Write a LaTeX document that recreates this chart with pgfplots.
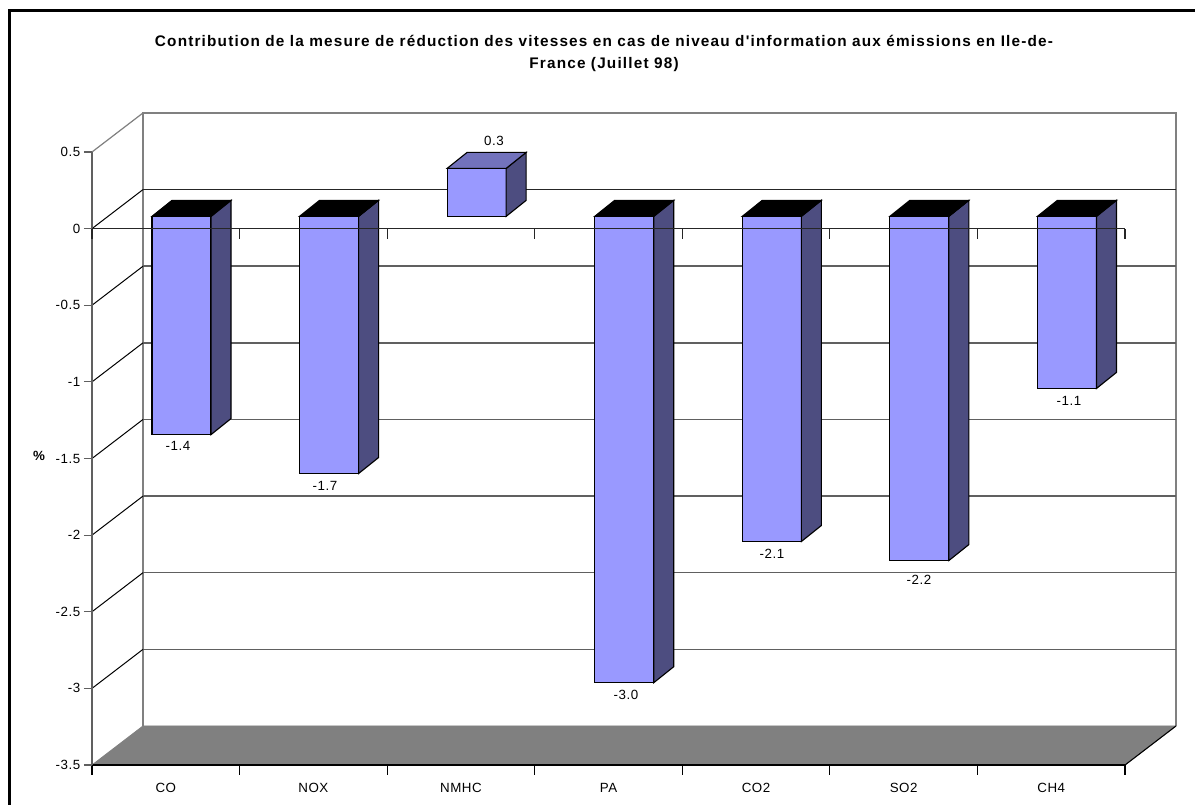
\documentclass[border=0pt]{standalone}
\usepackage{pgfplots}
\pgfplotsset{compat=1.18}
\usepackage{fontspec}
\setmainfont{Liberation Sans}
\newfontfamily\titlefont[LetterSpace=7.7,Ligatures=TeXOff]{Liberation Sans}
\newfontfamily\labfont[LetterSpace=4]{Liberation Sans}
\definecolor{barfront}{HTML}{9999FF}
\definecolor{barside}{HTML}{4D4D80}
\definecolor{bartop}{HTML}{7272BC}
\definecolor{wallgray}{HTML}{808080}
\definecolor{griddark}{HTML}{606060}
\newcommand{\lab}{\labfont\fontsize{10pt}{12pt}\selectfont}
\newcommand{\ttl}{\titlefont\bfseries\fontsize{11.5pt}{13pt}\selectfont}
\pgfplotsset{
  face/.style={line width=.85pt,draw=black,xshift=11.8pt,yshift=9.2pt,forget plot},
}
\begin{document}
\begin{tikzpicture}
\path[use as bounding box] (0,0) rectangle (896.25pt,603.75pt);
\clip (0,0) rectangle (896.25pt,603.75pt);
\fill[white] (0,0) rectangle (896.25pt,603.75pt);
\begin{axis}[
  at={(69pt,30pt)}, anchor=south west,
  scale only axis, width=774.75pt, height=459.75pt,
  xmin=0, xmax=7, ymin=-3.5, ymax=0.5,
  clip=false, axis on top,
  axis lines*=left,
  x axis line style={black,line width=1pt},
  y axis line style={griddark,line width=1pt},
  xtick={0,1,2,3,4,5,6,7},
  x tick label as interval,
  xticklabels={CO,NOX,NMHC,PA,CO2,SO2,CH4},
  ytick={-3.5,-3,-2.5,-2,-1.5,-1,-0.5,0,0.5},
  yticklabels={-3.5,-3,-2.5,-2,-1.5,-1,-0.5,0,0.5},
  tick align=outside,
  x tick style={black,line width=.8pt,/pgfplots/major tick length=7.5pt},
  y tick style={griddark,line width=.8pt,/pgfplots/major tick length=6pt},
  tick label style={font=\lab,text=black},
  xticklabel style={yshift=-5pt,text height=8pt,text depth=0pt},
  yticklabel style={xshift=-1pt},
  unbounded coords=jump,
]
% back wall
\addplot[draw=wallgray,line width=1.3pt,forget plot] coordinates {(0.3456,-3.2453)(0.3456,0.7547)(7.3456,0.7547)(7.3456,-3.2453)};
\addplot[draw=griddark,line width=1.15pt,forget plot] coordinates {
 (0.3456,-2.7453)(7.3456,-2.7453)(0.3456,nan)
 (0.3456,-2.2453)(7.3456,-2.2453)(0.3456,nan)
 (0.3456,-1.7453)(7.3456,-1.7453)(0.3456,nan)
 (0.3456,-1.2453)(7.3456,-1.2453)(0.3456,nan)
 (0.3456,-0.7453)(7.3456,-0.7453)(0.3456,nan)
 (0.3456,-0.2453)(7.3456,-0.2453)};
\addplot[draw=black!85,line width=1.3pt,forget plot] coordinates {(0.3456,0.2547)(7.3456,0.2547)};
% side wall diagonals
\addplot[draw=black,line width=.75pt,forget plot] coordinates {
 (0,-3)(0.3456,-2.7453)(0,nan)
 (0,-2.5)(0.3456,-2.2453)(0,nan)
 (0,-2)(0.3456,-1.7453)(0,nan)
 (0,-1.5)(0.3456,-1.2453)(0,nan)
 (0,-1)(0.3456,-0.7453)(0,nan)
 (0,-0.5)(0.3456,-0.2453)(0,nan)
 (0,0)(0.3456,0.2547)};
\addplot[draw=wallgray,line width=.9pt,forget plot] coordinates {(0,0.5)(0.3456,0.7547)};
% floor
\addplot[fill=wallgray,draw=wallgray,line width=.6pt,forget plot] coordinates {(0,-3.5)(7,-3.5)(7.3456,-3.2453)(0.3456,-3.2453)} -- cycle;
\addplot[draw=black,line width=.8pt,forget plot] coordinates {(7,-3.5)(7.3456,-3.2453)};
% bars: front faces
\addplot[ybar,bar width=44.25pt,bar shift=0pt,fill=barfront,face]
 coordinates {(0.5,-1.424)(1.5,-1.678)(2.5,0.313)(3.5,-3.043)(4.5,-2.122)(5.5,-2.246)(6.5,-1.123)};
% side faces
\addplot[fill=barside,face] coordinates {(0.7,0)(0.8355,0.1045)(0.8355,-1.3195)(0.7,-1.424)} -- cycle;
\addplot[fill=barside,face] coordinates {(1.7,0)(1.8355,0.1045)(1.8355,-1.5735)(1.7,-1.678)} -- cycle;
\addplot[fill=barside,face] coordinates {(2.7,0)(2.8355,0.1045)(2.8355,0.4175)(2.7,0.313)} -- cycle;
\addplot[fill=barside,face] coordinates {(3.7,0)(3.8355,0.1045)(3.8355,-2.9385)(3.7,-3.043)} -- cycle;
\addplot[fill=barside,face] coordinates {(4.7,0)(4.8355,0.1045)(4.8355,-2.0175)(4.7,-2.122)} -- cycle;
\addplot[fill=barside,face] coordinates {(5.7,0)(5.8355,0.1045)(5.8355,-2.1415)(5.7,-2.246)} -- cycle;
\addplot[fill=barside,face] coordinates {(6.7,0)(6.8355,0.1045)(6.8355,-1.0185)(6.7,-1.123)} -- cycle;
% top faces
\addplot[fill=black,face] coordinates {(0.3,0)(0.7,0)(0.8355,0.1045)(0.4355,0.1045)} -- cycle;
\addplot[fill=black,face] coordinates {(1.3,0)(1.7,0)(1.8355,0.1045)(1.4355,0.1045)} -- cycle;
\addplot[fill=bartop,face] coordinates {(2.3,0.313)(2.7,0.313)(2.8355,0.4175)(2.4355,0.4175)} -- cycle;
\addplot[fill=black,face] coordinates {(3.3,0)(3.7,0)(3.8355,0.1045)(3.4355,0.1045)} -- cycle;
\addplot[fill=black,face] coordinates {(4.3,0)(4.7,0)(4.8355,0.1045)(4.4355,0.1045)} -- cycle;
\addplot[fill=black,face] coordinates {(5.3,0)(5.7,0)(5.8355,0.1045)(5.4355,0.1045)} -- cycle;
\addplot[fill=black,face] coordinates {(6.3,0)(6.7,0)(6.8355,0.1045)(6.4355,0.1045)} -- cycle;
\end{axis}
% zero line drawn over the bars
\begin{axis}[
  at={(69pt,30pt)}, anchor=south west,
  scale only axis, width=774.75pt, height=459.75pt,
  xmin=0, xmax=7, ymin=-3.5, ymax=0.5,
  axis x line*=middle, axis y line=none,
  x axis line style={black!85,line width=1.3pt},
  xtick={0,1,2,3,4,5,6,7}, xticklabels={},
  ytick=\empty,
  tick align=outside,
  x tick style={black!85,line width=.9pt,/pgfplots/major tick length=7.5pt},
]
\end{axis}
\begin{scope}[x=.75pt,y=-.75pt,yshift=603.75pt]
\draw[black,line width=2.25pt] (9.5,805)--(9.5,10.5)--(1195,10.5);
\node[font=\ttl] at (604,41) {Contribution de la mesure de réduction des vitesses en cas de niveau d'information aux émissions en Ile-de-};
\node[font=\ttl] at (604,65) {France (Juillet 98)};
\node[font=\labfont\bfseries\fontsize{10pt}{12pt}\selectfont] at (39,456) {\%};
\node[font=\lab] at (178,446) {-1.4};
\node[font=\lab] at (325,486) {-1.7};
\node[font=\lab] at (494,141) {0.3};
\node[font=\lab] at (626,695) {-3.0};
\node[font=\lab] at (772,554) {-2.1};
\node[font=\lab] at (919,580) {-2.2};
\node[font=\lab] at (1069,401) {-1.1};
\end{scope}
\end{tikzpicture}
\end{document}
